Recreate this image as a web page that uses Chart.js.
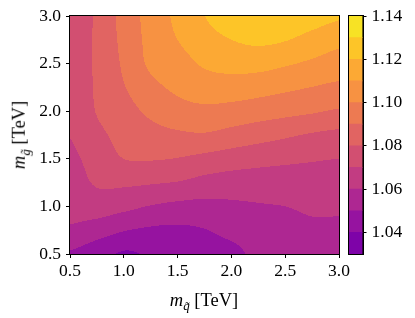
<!DOCTYPE html>
<html>
<head>
<meta charset="utf-8">
<script src="https://cdn.jsdelivr.net/npm/chart.js@4.4.0/dist/chart.umd.min.js"></script>
<style>
  html, body { margin: 0; padding: 0; background: #fff; }
  #wrap { position: relative; width: 415px; height: 318px; overflow: hidden; }
  #plot { position: absolute; left: 0; top: 0; }
  #cbar { position: absolute; left: 340px; top: 0; }
  .axtitle {
    position: absolute;
    font-family: 'Liberation Serif', serif;
    font-size: 18.5px;
    color: #000;
    white-space: nowrap;
    line-height: 1;
  }
  .axtitle sub { font-size: 0.7em; vertical-align: -0.35em; line-height: 0; }
  #xtitle { left: 204px; top: 300px; transform: translate(-50%, -50%); }
  #ytitle { left: 19px; top: 135px; transform: translate(-50%, -50%) rotate(-90deg); }
</style>
</head>
<body>
<div id="wrap">
  <canvas id="plot" width="360" height="318"></canvas>
  <canvas id="cbar" width="75" height="318"></canvas>
  <div class="axtitle" id="xtitle"><i>m</i><sub><i>q̃</i></sub> [TeV]</div>
  <div class="axtitle" id="ytitle"><i>m</i><sub><i>g̃</i></sub> [TeV]</div>
</div>
<script>
// grid nodes (TeV)
const xGrid = [0.5, 0.75, 1.0, 1.25, 1.5, 1.75, 2.0, 2.25, 2.5, 2.75, 3.0];
const yGrid = [0.5, 0.75, 1.0, 1.25, 1.5, 1.75, 2.0, 2.25, 2.5, 2.75, 3.0];

// values, one row per yGrid entry (bottom to top)
const zValues = [
  [1.049, 1.044, 1.039, 1.041, 1.041, 1.044, 1.047, 1.0525, 1.053, 1.054, 1.054],
  [1.0587, 1.055, 1.0505, 1.0485, 1.048, 1.0496, 1.0531, 1.0551, 1.056, 1.0578, 1.0575],
  [1.0624, 1.0647, 1.0626, 1.0595, 1.0575, 1.057, 1.0582, 1.0592, 1.06, 1.0617, 1.0618],
  [1.0651, 1.0711, 1.0717, 1.0708, 1.0695, 1.0668, 1.0655, 1.0654, 1.0656, 1.0661, 1.0659],
  [1.0678, 1.0743, 1.080, 1.0806, 1.0796, 1.0772, 1.075, 1.0732, 1.0719, 1.0708, 1.070],
  [1.0703, 1.0775, 1.0831, 1.0864, 1.0883, 1.089, 1.0865, 1.084, 1.0815, 1.079, 1.0774],
  [1.072, 1.0805, 1.0862, 1.092, 1.0961, 1.0977, 1.0964, 1.0946, 1.0929, 1.0911, 1.0889],
  [1.0735, 1.0812, 1.0894, 1.0971, 1.102, 1.105, 1.1054, 1.104, 1.1019, 1.0998, 1.0979],
  [1.0745, 1.0815, 1.0915, 1.1018, 1.1061, 1.1112, 1.1133, 1.1134, 1.1111, 1.1083, 1.1054],
  [1.0745, 1.0815, 1.0928, 1.103, 1.11, 1.1157, 1.12, 1.122, 1.1205, 1.1166, 1.1129],
  [1.0745, 1.0815, 1.0937, 1.1037, 1.1122, 1.1198, 1.126, 1.128, 1.127, 1.124, 1.121]
];

// contour levels and their fill colours (plasma)
const levels = [1.03, 1.04, 1.05, 1.06, 1.07, 1.08, 1.09, 1.10, 1.11, 1.12, 1.13, 1.14];
const bandColors = ['#7e03a8', '#9613a0', '#ae2792', '#c23c82', '#d24f71', '#e16462',
                    '#ed7a52', '#f79242', '#fca934', '#fdc528', '#f7e225'];

const axisTicks = [0.5, 1.0, 1.5, 2.0, 2.5, 3.0];
const cbarTicks = [1.04, 1.06, 1.08, 1.10, 1.12, 1.14];

const tickFont = { family: "'Liberation Serif', serif", size: 17.5 };

function hexToRgb(h) {
    return [parseInt(h.slice(1, 3), 16), parseInt(h.slice(3, 5), 16), parseInt(h.slice(5, 7), 16)];
}

function seg(arr, v) {
    let i = 0;
    while (i < arr.length - 2 && v > arr[i + 1]) i++;
    let t = (v - arr[i]) / (arr[i + 1] - arr[i]);
    return [i, Math.min(1, Math.max(0, t))];
}

function cubic(p0, p1, p2, p3, t) {
    return p1 + 0.5 * t * (p2 - p0 + t * (2 * p0 - 5 * p1 + 4 * p2 - p3 + t * (3 * (p1 - p2) + p3 - p0)));
}

function node(j, i) {
    j = Math.max(0, Math.min(yGrid.length - 1, j));
    i = Math.max(0, Math.min(xGrid.length - 1, i));
    return zValues[j][i];
}

// smooth (Catmull-Rom) value inside the grid
function zAt(x, y) {
    const [i, tx] = seg(xGrid, x);
    const [j, ty] = seg(yGrid, y);
    const rows = [];
    for (let r = -1; r <= 2; r++) {
        rows.push(cubic(node(j + r, i - 1), node(j + r, i), node(j + r, i + 1), node(j + r, i + 2), tx));
    }
    return cubic(rows[0], rows[1], rows[2], rows[3], ty);
}

// filled contours, painted through the chart's scales
const contourFill = {
    id: 'contourFill',
    beforeDatasetsDraw(chart) {
        const { ctx, chartArea: a, scales } = chart;
        const w = Math.round(a.right - a.left), h = Math.round(a.bottom - a.top);
        const off = document.createElement('canvas');
        off.width = w; off.height = h;
        const octx = off.getContext('2d');
        const img = octx.createImageData(w, h);
        const rgb = bandColors.map(hexToRgb);
        for (let py = 0; py < h; py++) {
            const yv = scales.y.getValueForPixel(a.top + py + 0.5);
            for (let px = 0; px < w; px++) {
                const xv = scales.x.getValueForPixel(a.left + px + 0.5);
                const z = zAt(xv, yv);
                let b = 0;
                while (b < bandColors.length - 1 && z >= levels[b + 1]) b++;
                const k = (py * w + px) * 4;
                img.data[k] = rgb[b][0];
                img.data[k + 1] = rgb[b][1];
                img.data[k + 2] = rgb[b][2];
                img.data[k + 3] = 255;
            }
        }
        octx.putImageData(img, 0, 0);
        ctx.drawImage(off, a.left, a.top, w, h);
    }
};

// black box round the plot area
const frame = {
    id: 'frame',
    afterDraw(chart) {
        const { ctx, chartArea: a } = chart;
        ctx.save();
        ctx.strokeStyle = '#000';
        ctx.lineWidth = 1;
        ctx.strokeRect(Math.round(a.left) - 0.5, Math.round(a.top) - 0.5,
                       Math.round(a.right - a.left) + 1, Math.round(a.bottom - a.top) + 1);
        ctx.restore();
    }
};

document.addEventListener('DOMContentLoaded', function() {
    new Chart(document.getElementById('plot'), {
        type: 'scatter',
        data: { datasets: [] },
        options: {
            responsive: false,
            animation: false,
            layout: { padding: { left: 0, top: 16, right: 21, bottom: 0 } },
            plugins: { legend: { display: false }, tooltip: { enabled: false } },
            scales: {
                x: {
                    type: 'linear', min: 0.5, max: 3.0,
                    afterBuildTicks: s => { s.ticks = axisTicks.map(v => ({ value: v })); },
                    afterFit: s => { s.height = 64; },
                    ticks: { font: tickFont, color: '#000', padding: 3, maxRotation: 0,
                             callback: v => v.toFixed(1) },
                    grid: { drawOnChartArea: false, drawTicks: true, tickLength: 4, color: '#000' },
                    border: { display: true, color: '#000', width: 1 }
                },
                y: {
                    type: 'linear', min: 0.5, max: 3.0,
                    afterBuildTicks: s => { s.ticks = axisTicks.map(v => ({ value: v })); },
                    afterFit: s => { s.width = 70; },
                    ticks: { font: tickFont, color: '#000', padding: 5,
                             callback: v => v.toFixed(1) },
                    grid: { drawOnChartArea: false, drawTicks: true, tickLength: 4, color: '#000' },
                    border: { display: true, color: '#000', width: 1 }
                }
            }
        },
        plugins: [contourFill, frame]
    });

    // colour bar: one floating bar per contour band
    const bandSets = bandColors.map((c, i) => ({
        data: [[levels[i], levels[i + 1]]],
        backgroundColor: c,
        borderWidth: 0,
        grouped: false,
        barPercentage: 1,
        categoryPercentage: 1
    }));

    new Chart(document.getElementById('cbar'), {
        type: 'bar',
        data: { labels: [''], datasets: bandSets },
        options: {
            responsive: false,
            animation: false,
            layout: { padding: { left: 9, top: 16, right: 0, bottom: 64 } },
            plugins: { legend: { display: false }, tooltip: { enabled: false } },
            scales: {
                x: { display: false },
                y: {
                    position: 'right', min: 1.03, max: 1.14,
                    afterBuildTicks: s => { s.ticks = cbarTicks.map(v => ({ value: v })); },
                    afterFit: s => { s.width = 52.5; },
                    ticks: { font: tickFont, color: '#000', padding: 5,
                             callback: v => v.toFixed(2) },
                    grid: { drawOnChartArea: false, drawTicks: true, tickLength: 4, color: '#000' },
                    border: { display: true, color: '#000', width: 1 }
                }
            }
        },
        plugins: [frame]
    });
});
</script>
</body>
</html>
